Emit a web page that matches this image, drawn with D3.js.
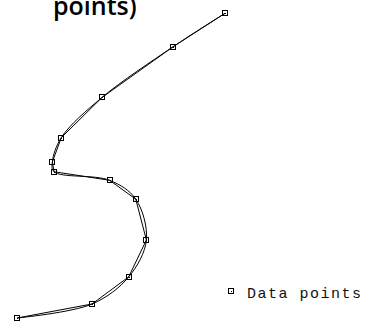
<!DOCTYPE html>
<html>
<head>
<meta charset="utf-8">
<script src="https://cdn.jsdelivr.net/npm/d3@7/dist/d3.min.js"></script>
<style>
  html, body { margin: 0; padding: 0; background: #fff; }
  svg { display: block; }
</style>
</head>
<body>
<svg id="chart" width="368" height="321"></svg>
<script>
// Sample points along the path, in drawing order
const xValues = [0, 3.61, 5.37, 6.22, 5.71, 4.45, 1.78, 1.70, 2.13, 4.09, 7.50, 10];
const yValues = [0, 0.46, 1.35, 2.56, 3.90, 4.52, 4.80, 5.12, 5.92, 7.24, 8.90, 10];
const titleText = "points)";
const legendLabel = "Data points";

const svg = d3.select("#chart");

const x = d3.scaleLinear().domain([0, 10]).range([17, 225]);
const y = d3.scaleLinear().domain([0, 10]).range([318, 13.3]);

const pts = xValues.map((v, i) => [v, yValues[i]]);

const straight = d3.line().x(d => x(d[0])).y(d => y(d[1]));
const smooth = d3.line().x(d => x(d[0])).y(d => y(d[1])).curve(d3.curveCatmullRom.alpha(0.5));

// straight segments joining the points
svg.append("path")
  .datum(pts)
  .attr("fill", "none")
  .attr("stroke", "#000")
  .attr("stroke-width", 1)
  .attr("d", straight);

// smooth interpolating curve through the same points
svg.append("path")
  .datum(pts)
  .attr("fill", "none")
  .attr("stroke", "#000")
  .attr("stroke-width", 1)
  .attr("d", smooth);

// square markers with a centre dot
function marker(g, cx, cy) {
  const px = Math.round(cx), py = Math.round(cy);
  g.append("rect")
    .attr("x", px - 2.5).attr("y", py - 2.5)
    .attr("width", 5).attr("height", 5)
    .attr("fill", "none").attr("stroke", "#000").attr("stroke-width", 1);
  g.append("rect")
    .attr("x", px).attr("y", py)
    .attr("width", 1).attr("height", 1)
    .attr("fill", "#000");
}

const mk = svg.append("g").attr("shape-rendering", "crispEdges");
pts.forEach(d => marker(mk, x(d[0]), y(d[1])));

// title (second line of a wrapped heading)
svg.append("text")
  .attr("x", 53).attr("y", 15)
  .attr("font-family", "'Open Sans', sans-serif")
  .attr("font-weight", 600)
  .attr("font-size", 25)
  .attr("fill", "#000")
  .text(titleText);

// legend
const lg = svg.append("g").attr("shape-rendering", "crispEdges");
marker(lg, 231, 291);
svg.append("text")
  .attr("x", 247).attr("y", 298)
  .attr("font-family", "'Liberation Mono', monospace")
  .attr("font-size", 15)
  .attr("letter-spacing", 1.5)
  .attr("fill", "#111")
  .text(legendLabel);
</script>
</body>
</html>
